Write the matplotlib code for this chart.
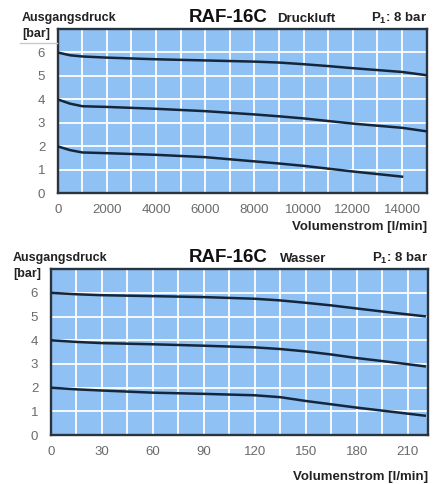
import matplotlib.pyplot as plt
import numpy as np

plt.rcParams['font.family'] = ['Liberation Sans', 'DejaVu Sans']

# Druckluft (compressed air), flow in l/min
air_flow = [0, 500, 1000, 2000, 4000, 6000, 8000, 9000, 10000, 11000, 12000, 13000, 14000, 15000]
air_p6 = [6.0, 5.88, 5.83, 5.78, 5.71, 5.66, 5.61, 5.57, 5.5, 5.42, 5.33, 5.25, 5.17, 5.03]
air_p4 = [4.0, 3.82, 3.71, 3.68, 3.6, 3.5, 3.36, 3.28, 3.19, 3.08, 2.97, 2.88, 2.79, 2.64]
air_flow_low = [0, 500, 1000, 2000, 4000, 6000, 8000, 9000, 10000, 11000, 12000, 13000, 14000]
air_p2 = [2.0, 1.84, 1.74, 1.71, 1.64, 1.54, 1.36, 1.27, 1.17, 1.05, 0.93, 0.82, 0.71]

# Wasser (water), flow in l/min
water_flow = [0, 15, 30, 60, 90, 120, 135, 150, 165, 180, 200, 220]
water_p6 = [6.0, 5.94, 5.9, 5.86, 5.82, 5.75, 5.68, 5.58, 5.47, 5.34, 5.17, 5.01]
water_p4 = [4.0, 3.93, 3.88, 3.83, 3.77, 3.7, 3.63, 3.53, 3.4, 3.25, 3.08, 2.9]
water_p2 = [2.0, 1.93, 1.88, 1.79, 1.74, 1.68, 1.6, 1.44, 1.3, 1.16, 0.99, 0.82]

air_xticks = [0, 2000, 4000, 6000, 8000, 10000, 12000, 14000]
water_xticks = [0, 30, 60, 90, 120, 150, 180, 210]
yticks = [0, 1, 2, 3, 4, 5, 6]

bg = '#8fc1f4'
line_col = '#15263a'
tick_col = '#6a6a6a'

fig = plt.figure(figsize=(4.45, 4.84), dpi=100)
ax1 = fig.add_axes([0.1297, 0.6006, 0.829, 0.3395])
ax2 = fig.add_axes([0.114, 0.101, 0.848, 0.343])


def style(ax, xmax, xstep, xticks):
    ax.set_facecolor(bg)
    ax.set_xlim(0, xmax)
    ax.set_ylim(0, 7)
    for x in np.arange(xstep, xmax, xstep):
        ax.axvline(x, color='white', lw=1.3, zorder=1)
    for y in range(1, 7):
        ax.axhline(y, color='white', lw=1.3, zorder=1)
    ax.set_xticks(xticks)
    ax.set_yticks(yticks)
    ax.tick_params(length=0, colors=tick_col, labelsize=9.5)
    ax.tick_params(axis='x', pad=8)
    ax.tick_params(axis='y', pad=9)
    for s in ax.spines.values():
        s.set_color('#2a3340')
        s.set_linewidth(1.7)


style(ax1, 15000, 1000, air_xticks)
style(ax2, 222, 15, water_xticks)

for y in (air_p6, air_p4):
    ax1.plot(air_flow, y, color=line_col, lw=1.8, zorder=3)
ax1.plot(air_flow_low, air_p2, color=line_col, lw=1.8, zorder=3)
for y in (water_p6, water_p4, water_p2):
    ax2.plot(water_flow, y, color=line_col, lw=1.8, zorder=3)


def header(ytop, xleft, medium, xmed, xright, ybottom):
    fig.text(xleft / 445, 1 - ytop / 484, 'Ausgangsdruck', fontsize=9, fontweight='bold',
             ha='left', va='center', color='#222222')
    fig.text(xleft / 445, 1 - (ytop + 16) / 484, '[bar]', fontsize=9, fontweight='bold',
             ha='left', va='center', color='#222222')
    fig.text(228 / 445, 1 - ytop / 484, 'RAF-16C', fontsize=13.5, fontweight='bold',
             ha='center', va='center', color='#111111')
    fig.text(xmed / 445, 1 - (ytop + 1) / 484, medium, fontsize=9.5, fontweight='bold',
             ha='left', va='center', color='#222222')
    fig.text(xright / 445, 1 - ytop / 484, r'P$_\mathregular{1}$: 8 bar', fontsize=9.5,
             fontweight='bold', ha='right', va='center', color='#222222')
    fig.text(xright / 445, 1 - ybottom / 484, 'Volumenstrom [l/min]', fontsize=9.5,
             fontweight='bold', ha='right', va='center', color='#222222')


header(18, 22, 'Druckluft', 277, 427, 227)
header(258, 13, 'Wasser', 280, 428, 477)

# thin grey rule under "[bar]" on the upper chart
fig.add_artist(plt.Line2D([20 / 445, 57 / 445], [1 - 43 / 484, 1 - 43 / 484],
                          color='#c8c8c8', lw=1))

fig.savefig('out.png', dpi=100)
